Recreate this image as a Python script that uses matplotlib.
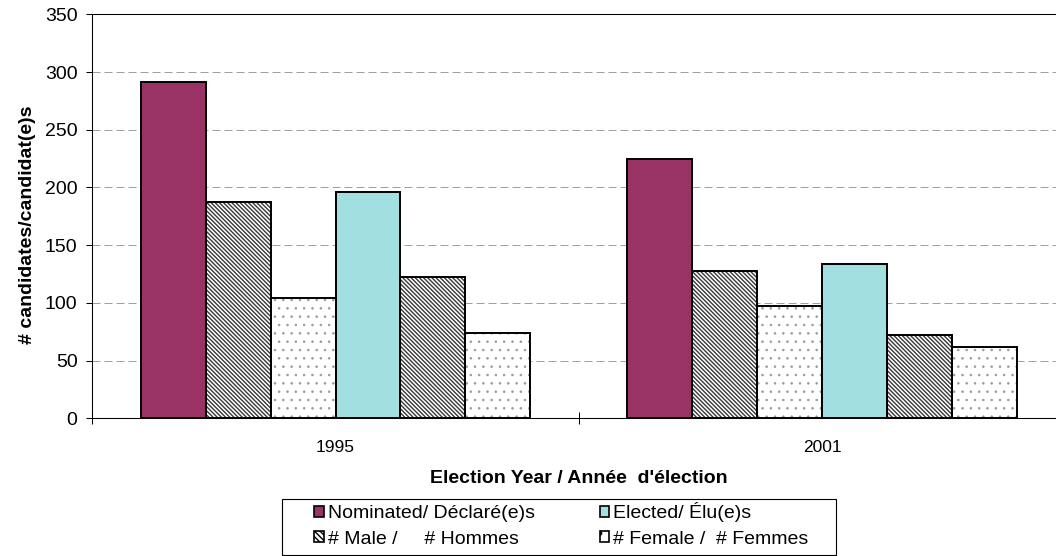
import matplotlib.pyplot as plt
import numpy as np
from matplotlib.patches import Patch, Rectangle

plt.rcParams['font.family'] = ['Liberation Sans', 'DejaVu Sans']
plt.rcParams['hatch.linewidth'] = 1.0

# values
years = ['1995', '2001']
nominated = [291, 225]
nominated_male = [187, 128]
nominated_female = [104, 97]
elected = [196, 134]
elected_male = [122, 72]
elected_female = [74, 62]

maroon = '#993366'
cyan = '#a2dfe0'
male_hatch = '\\' * 8
female_hatch = '..'

fig = plt.figure(figsize=(10.56, 5.56), dpi=100)
ax = fig.add_axes([0.0874, 0.2477, 0.9214, 0.7266])

x = np.arange(len(years))
w = 0.8 / 6

# (values, face colour, hatch, hatch colour)
series = [
    (nominated, maroon, None, None),
    (nominated_male, 'white', male_hatch, '#383838'),
    (nominated_female, 'white', female_hatch, '#9a9a9a'),
    (elected, cyan, None, None),
    (elected_male, 'white', male_hatch, '#383838'),
    (elected_female, 'white', female_hatch, '#9a9a9a'),
]

for i, (vals, fc, hatch, hc) in enumerate(series):
    pos = x + (i - 2.5) * w
    if hatch is None:
        ax.bar(pos, vals, w, color=fc, edgecolor='black', linewidth=1.4, zorder=3)
    else:
        # hatch layer first, outline on top
        lw_h = 0.6 if hatch == female_hatch else 1.0
        with plt.rc_context({'hatch.linewidth': lw_h}):
            ax.bar(pos, vals, w, color=fc, edgecolor=hc, linewidth=0, hatch=hatch, zorder=2)
        ax.bar(pos, vals, w, fill=False, edgecolor='black', linewidth=1.4, zorder=3)

ax.set_xlim(-0.5, 1.5)
ax.set_ylim(0, 350)
ax.set_yticks(range(0, 351, 50))
ax.yaxis.grid(True, color='#a0a0a0', linestyle=(0, (8, 4)), linewidth=0.72)
ax.set_axisbelow(True)

ax.set_xticks([-0.5, 0.5, 1.5])
ax.set_xticklabels(['', '', ''])
ax.set_xticks(x, minor=True)
ax.set_xticklabels(years, minor=True)
ax.tick_params(axis='x', which='major', direction='inout', length=8.6, width=0.75)
ax.tick_params(axis='x', which='minor', length=0, pad=15.7, labelsize=12.5)
ax.tick_params(axis='y', direction='out', length=4.3, width=0.75, pad=6.3, labelsize=14)

for s in ax.spines.values():
    s.set_linewidth(0.75)
    s.set_color('black')

ax.set_xlabel("Election Year / Année  d'élection", fontsize=14, fontweight='bold', va='center')
ax.xaxis.set_label_coords(0.5, -0.148)
ax.set_ylabel('# candidates/candidat(e)s', fontsize=14, fontweight='bold', va='center')
ax.yaxis.set_label_coords(-0.067, 0.478)

handles = [
    Patch(facecolor=maroon, edgecolor='black', linewidth=1.2),
    Patch(facecolor='white', edgecolor='black', linewidth=1.2, hatch='\\' * 6),
    Patch(facecolor=cyan, edgecolor='black', linewidth=1.2),
    Patch(facecolor='white', edgecolor='black', linewidth=1.2, hatch='.'),
]
labels = ['Nominated/ Déclaré(e)s', '# Male /     # Hommes',
          'Elected/ Élu(e)s', '# Female /  # Femmes']
fig.legend(handles, labels, ncol=2, loc='upper left',
           bbox_to_anchor=(314 / 1056, 1 - 502.5 / 556), frameon=False, fontsize=14,
           handlelength=0.5, handleheight=0.5, handletextpad=0.2,
           columnspacing=3.35, labelspacing=0.42, borderpad=0, borderaxespad=0)
fig.add_artist(Rectangle((282 / 1056, 1 - 555 / 556), (836 - 282) / 1056,
                         (555 - 498.7) / 556, transform=fig.transFigure,
                         fill=False, edgecolor='black', linewidth=0.8))

fig.savefig('out.png', dpi=100)
